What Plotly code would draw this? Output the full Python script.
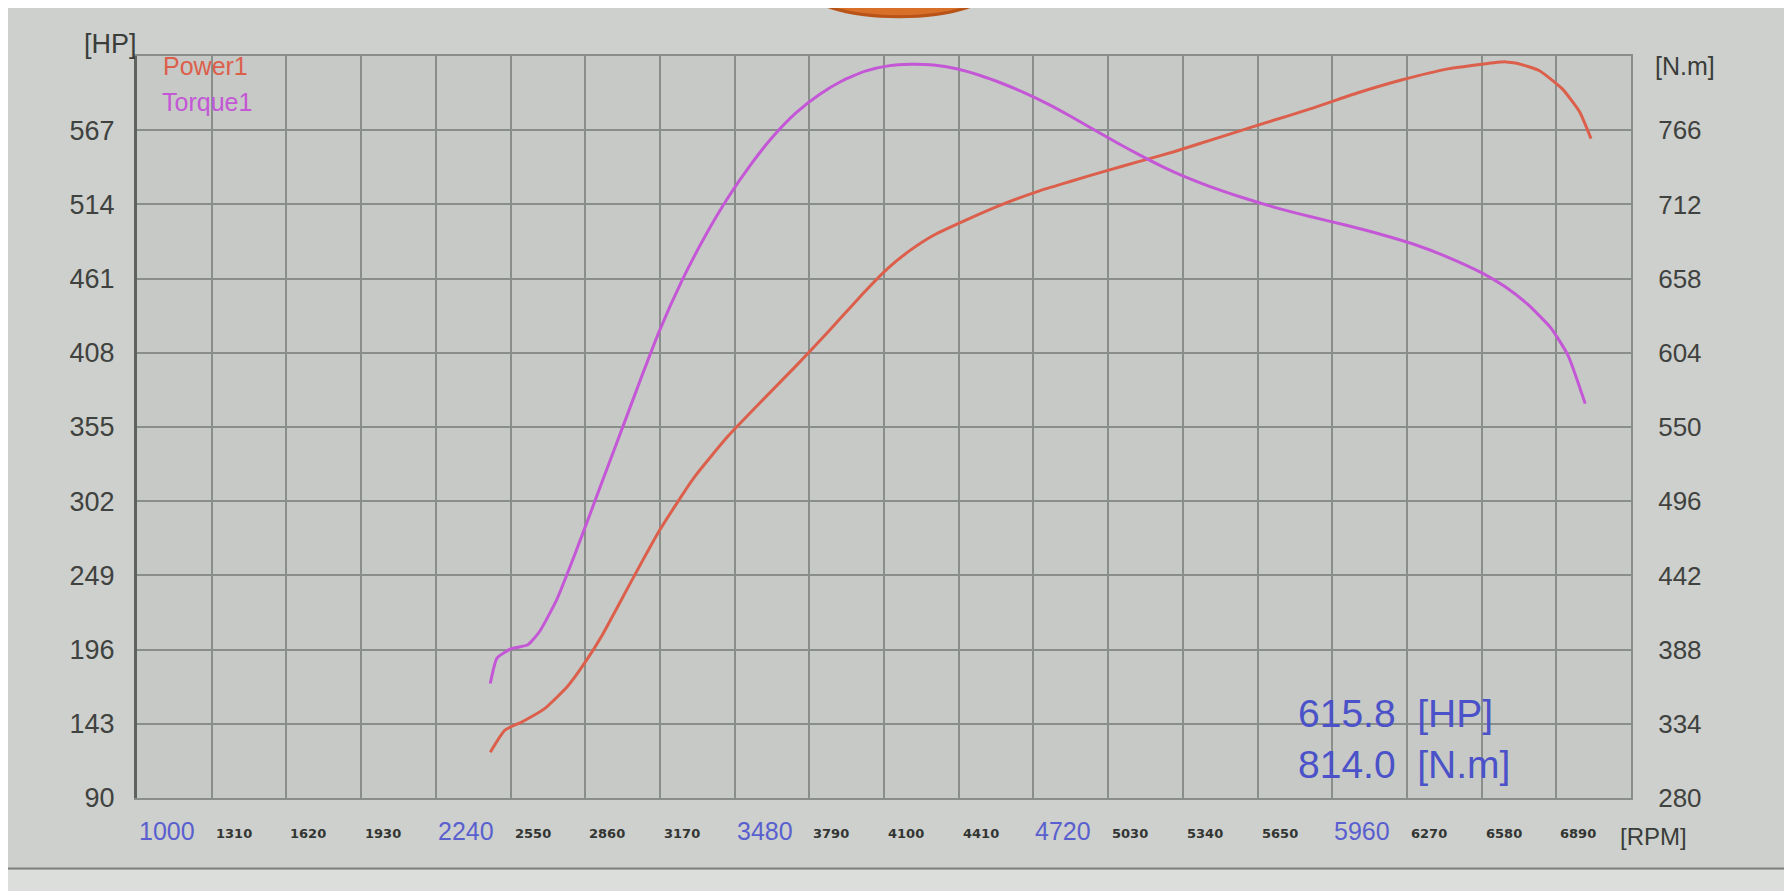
import plotly.graph_objects as go

# ---- data ----
rpm_power = [2466, 2527, 2599, 2693, 2788, 2860, 2931, 3049, 3168, 3310, 3453, 3595, 3737,
             3879, 4022, 4117, 4211, 4306, 4449, 4591, 4733, 4876, 5018, 5160, 5303, 5492,
             5682, 5872, 6061, 6251, 6441, 6631, 6680, 6726, 6820, 6915, 6987, 7034]
power_hp = [122.7, 138.5, 144.5, 154.0, 170.0, 187.0, 206.5, 244.0, 281.0, 318.5, 348.5, 374.0,
            399.0, 425.0, 452.0, 468.5, 481.5, 492.0, 503.5, 514.0, 523.0, 530.5, 537.8, 544.7,
            551.6, 561.9, 572.2, 582.4, 593.4, 603.0, 610.8, 615.2, 615.8, 614.8, 609.5, 596.5,
            580.0, 561.0]

rpm_torque = [2466, 2494, 2551, 2622, 2670, 2741, 2812, 2883, 2954, 3026, 3097, 3168, 3263,
              3358, 3453, 3547, 3642, 3737, 3832, 3927, 4022, 4117, 4211, 4306, 4401, 4496,
              4591, 4686, 4781, 4876, 4970, 5065, 5160, 5255, 5350, 5445, 5587, 5729, 5872,
              6014, 6156, 6299, 6441, 6583, 6678, 6773, 6868, 6939, 7010]
torque_nm = [363.3, 381.8, 388.5, 391.5, 401.0, 424.0, 455.0, 488.0, 521.3, 554.8, 588.0, 620.0,
             657.0, 689.0, 717.0, 741.0, 762.0, 779.0, 792.0, 802.0, 809.0, 812.8, 814.0, 813.4,
             810.7, 806.0, 800.0, 793.0, 785.0, 776.0, 766.5, 757.0, 748.0, 739.5, 732.0, 725.5,
             717.0, 709.5, 703.0, 697.0, 690.5, 683.0, 673.5, 662.0, 652.0, 639.0, 622.0, 602.0,
             567.0]

hp_ticks = [90, 143, 196, 249, 302, 355, 408, 461, 514, 567]
nm_ticks = [280, 334, 388, 442, 496, 550, 604, 658, 712, 766]
rpm_ticks = [1000, 1310, 1620, 1930, 2240, 2550, 2860, 3170, 3480, 3790, 4100, 4410,
             4720, 5030, 5340, 5650, 5960, 6270, 6580, 6890]
rpm_major = [1000, 2240, 3480, 4720, 5960]

peak_text = "615.8\u00a0\u00a0[HP]<br>814.0\u00a0\u00a0[N.m]"

FONT = "Liberation Sans, Arial, sans-serif"
GRID = "#8a8e8a"
POWER_C = "#dc5f4c"
TORQUE_C = "#c457d6"
BLUE = "#4b52c9"

fig = go.Figure()
fig.add_trace(go.Scatter(x=rpm_power, y=power_hp, mode="lines", name="Power1",
                         line=dict(color=POWER_C, width=3, shape="spline", smoothing=0.5),
                         yaxis="y"))
fig.add_trace(go.Scatter(x=rpm_torque, y=torque_nm, mode="lines", name="Torque1",
                         line=dict(color=TORQUE_C, width=3, shape="spline", smoothing=0.5),
                         yaxis="y2"))

annotations = []
for v in rpm_ticks:
    major = v in rpm_major
    annotations.append(dict(
        x=v, xref="x", y=0, yref="paper", yanchor="middle", xanchor="left",
        xshift=0 if major else 2, yshift=-33 if major else -35,
        text=str(v), showarrow=False,
        font=dict(family=FONT if major else "DejaVu Sans, sans-serif",
                  size=25 if major else 13,
                  weight=None if major else "bold",
                  color="#5a5fd0" if major else "#333533")))

annotations += [
    dict(x=0, xref="paper", y=1, yref="paper", xanchor="right", yanchor="middle",
         xshift=2, yshift=12, text="[HP]", showarrow=False,
         font=dict(family=FONT, size=27, color="#3a3d3a")),
    dict(x=1, xref="paper", y=1, yref="paper", xanchor="left", yanchor="middle",
         xshift=22, yshift=-10, text="[N.m]", showarrow=False,
         font=dict(family=FONT, size=25, color="#3a3d3a")),
    dict(x=1, xref="paper", y=0, yref="paper", xanchor="left", yanchor="middle",
         xshift=-13, yshift=-38, text="[RPM]", showarrow=False,
         font=dict(family=FONT, size=24, color="#3a3d3a")),
    dict(x=0, xref="paper", y=1, yref="paper", xanchor="left", yanchor="middle",
         xshift=24, yshift=-10, text="Power1", showarrow=False,
         font=dict(family=FONT, size=25, color=POWER_C)),
    dict(x=0, xref="paper", y=1, yref="paper", xanchor="left", yanchor="middle",
         xshift=23, yshift=-46, text="Torque1", showarrow=False,
         font=dict(family=FONT, size=25, color=TORQUE_C)),
    dict(x=0.776, xref="paper", y=0.079, yref="paper", xanchor="left", yanchor="middle",
         align="left", text=peak_text, showarrow=False,
         font=dict(family=FONT, size=39, color=BLUE)),
]

fig.update_layout(
    width=1792, height=891,
    margin=dict(l=129, r=169, t=48, b=101),
    paper_bgcolor="#cdd0cc",
    plot_bgcolor="#c6c9c5",
    showlegend=False,
    font=dict(family=FONT, color="#3a3d3a"),
    xaxis=dict(range=[1000, 7200], tickvals=rpm_ticks, showticklabels=False,
               showgrid=True, gridcolor=GRID, gridwidth=2, zeroline=False,
               showline=True, linecolor=GRID, linewidth=2, mirror=True, ticks=""),
    yaxis=dict(range=[90, 620], tickvals=hp_ticks, showgrid=True, gridcolor=GRID,
               gridwidth=2, zeroline=False, showline=True, linecolor="#5d625d", linewidth=3,
               ticks="", ticklabelstandoff=14,
               tickfont=dict(family=FONT, size=27, color="#3f423f")),
    yaxis2=dict(range=[280, 820], tickvals=nm_ticks, overlaying="y", side="right",
                showgrid=False, zeroline=False, showline=True, linecolor=GRID, linewidth=2,
                ticks="", ticklabelstandoff=20,
                tickfont=dict(family=FONT, size=26, color="#3f423f")),
    annotations=annotations,
    shapes=[
        dict(type="circle", xref="paper", yref="paper", x0=0.446, x1=0.574, y0=1.053, y1=1.135,
             fillcolor="#d8702a", line=dict(color="#b85418", width=3)),
        dict(type="line", xref="paper", yref="paper", x0=-0.1, x1=1.15, y0=-0.095, y1=-0.095,
             line=dict(color="#7d807d", width=2)),
        dict(type="rect", xref="paper", yref="paper", x0=-0.1, x1=1.15, y0=-0.097, y1=-0.2,
             fillcolor="#dcdedb", line=dict(width=0), layer="below"),
    ],
)

fig.write_html("out.html")
